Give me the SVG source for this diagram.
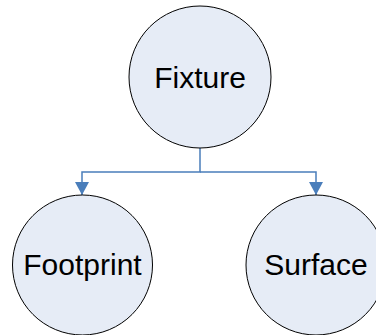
<svg xmlns="http://www.w3.org/2000/svg" width="376" height="335" viewBox="0 0 376 335">
<style>
.n{fill:#e6ecf6;stroke:#000;stroke-width:1}
.t{font-family:"Liberation Sans",Arial,sans-serif;font-size:30px;fill:#000;text-anchor:middle}
.c{fill:none;stroke:#4a7ebb;stroke-width:1.5}
</style>
<defs>
<marker id="a" viewBox="0 0 10 10" refX="10" refY="5" markerWidth="13" markerHeight="14" markerUnits="userSpaceOnUse" orient="auto" preserveAspectRatio="none">
<path d="M0,0 L10,5 L0,10 z" fill="#4a7ebb"/>
</marker>
</defs>
<g id="connectors">
<path class="c" d="M200,148 V172 H82 V195" marker-end="url(#a)"/>
<path class="c" d="M200,172 H316 V195" marker-end="url(#a)"/>
</g>
<g id="fixture">
<circle class="n" cx="200" cy="77" r="71"/>
<text class="t" x="200" y="88">Fixture</text>
</g>
<g id="footprint">
<circle class="n" cx="82.5" cy="265" r="70"/>
<text class="t" x="82.5" y="275">Footprint</text>
</g>
<g id="surface">
<circle class="n" cx="316" cy="265" r="70"/>
<text class="t" x="316" y="275">Surface</text>
</g>
</svg>
